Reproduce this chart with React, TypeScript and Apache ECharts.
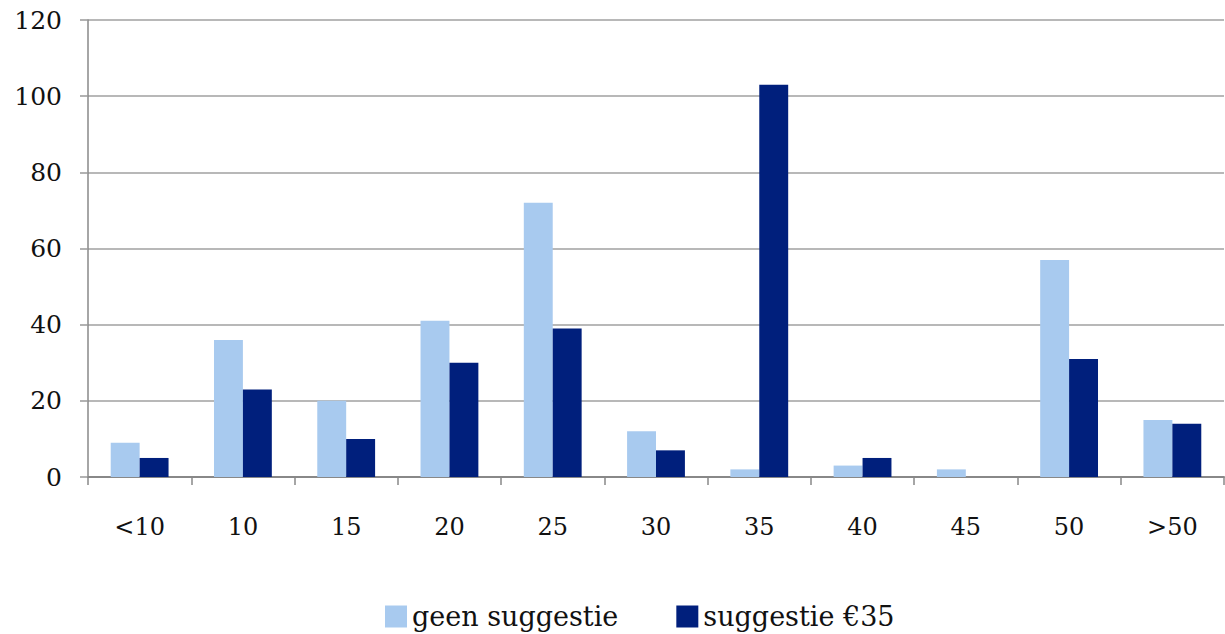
import React, { useEffect, useRef } from "react";
import * as echarts from "echarts";

const categories = ["<10", "10", "15", "20", "25", "30", "35", "40", "45", "50", ">50"];
const geenSuggestie = [9, 36, 20, 41, 72, 12, 2, 3, 2, 57, 15];
const suggestie35 = [5, 23, 10, 30, 39, 7, 103, 5, 0, 31, 14];
const seriesNames = ["geen suggestie", "suggestie €35"];

const FONT = "DejaVu Serif";

export default function App() {
  const ref = useRef<HTMLDivElement>(null);
  useEffect(() => {
    if (!ref.current) return;
    const chart = echarts.init(ref.current, undefined, { renderer: "svg" });
    chart.setOption({
      animation: false,
      textStyle: { fontFamily: FONT, color: "#111" },
      grid: { left: 88, right: 1, top: 20, bottom: 157, containLabel: false },
      legend: {
        left: 380,
        top: 598,
        icon: "rect",
        itemWidth: 22,
        itemHeight: 22,
        itemGap: 58,
        textStyle: { fontFamily: FONT, fontSize: 27, color: "#111" },
        data: seriesNames,
      },
      xAxis: {
        type: "category",
        data: categories,
        axisLine: { lineStyle: { color: "#888", width: 2 } },
        axisTick: { show: true, length: 8, lineStyle: { color: "#888", width: 1.5 } },
        axisLabel: { fontFamily: FONT, fontSize: 24, color: "#111", margin: 38 },
      },
      yAxis: {
        type: "value",
        min: 0,
        max: 120,
        interval: 20,
        axisLine: { show: true, lineStyle: { color: "#888", width: 1.5 } },
        axisTick: { show: true, length: 8, lineStyle: { color: "#999", width: 1.5 } },
        axisLabel: { fontFamily: FONT, fontSize: 25, color: "#111", margin: 26 },
        splitLine: { lineStyle: { color: "#a0a0a0", width: 1.5 } },
      },
      series: [
        {
          name: seriesNames[0],
          type: "bar",
          data: geenSuggestie,
          barGap: "0%",
          barCategoryGap: "44%",
          itemStyle: { color: "#A8CAEF" },
        },
        {
          name: seriesNames[1],
          type: "bar",
          data: suggestie35,
          barGap: "0%",
          barCategoryGap: "44%",
          itemStyle: { color: "#001F7C" },
        },
      ],
    });
    return () => chart.dispose();
  }, []);
  return (
    <div
      ref={ref}
      style={{ position: "absolute", left: 0, top: 0, width: 1225, height: 634, background: "#fff" }}
    />
  );
}
